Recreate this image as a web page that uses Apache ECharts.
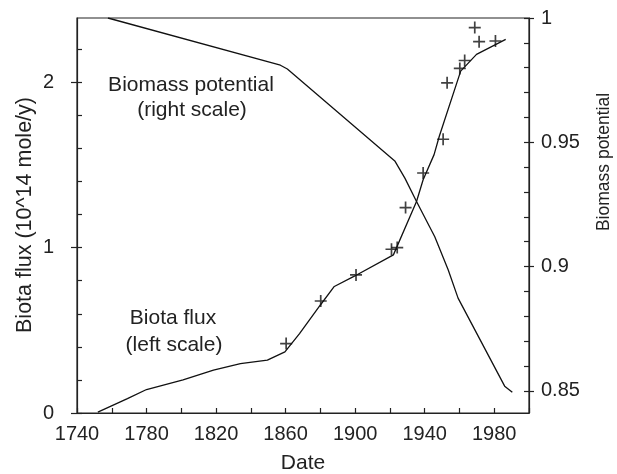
<!DOCTYPE html>
<html><head><meta charset="utf-8">
<script src="https://cdn.jsdelivr.net/npm/echarts@6/dist/echarts.min.js"></script>
<style>html,body{margin:0;padding:0;background:#fff}#c{width:617px;height:474px}</style>
</head><body><div id="c"></div>
<script>
// Biota flux model line (left scale, 10^14 mole/y)
const fluxYears = [1752, 1769, 1780, 1801, 1818.5, 1834, 1849.5, 1859.6, 1868, 1880, 1888, 1899, 1922, 1935.3, 1939.1, 1945.4, 1948.4, 1960.7, 1969.8, 1986.6];
const fluxVals  = [0.005, 0.087, 0.142, 0.2, 0.259, 0.299, 0.32, 0.37, 0.48, 0.653, 0.765, 0.824, 0.956, 1.279, 1.41, 1.562, 1.673, 2.067, 2.168, 2.259];
// Observed biota flux (+ markers)
const obsYears = [1860.3, 1880.2, 1900.5, 1920.9, 1924.2, 1929, 1939.1, 1950.6, 1952.9, 1960.2, 1963, 1968.8, 1971.3, 1980.7];
const obsVals  = [0.42, 0.677, 0.835, 0.99, 1.0, 1.242, 1.451, 1.655, 1.996, 2.083, 2.131, 2.33, 2.245, 2.249];
// Biomass potential (right scale)
const bioYears = [1757.8, 1857, 1861, 1922.8, 1928.6, 1935.3, 1945.8, 1953.5, 1959.2, 1986, 1990.4];
const bioVals  = [1.0, 0.981, 0.9795, 0.9425, 0.9356, 0.9262, 0.912, 0.8987, 0.8873, 0.8519, 0.8494];
// Axis ticks and labels
const xTicks = [1740,1760,1780,1800,1820,1840,1860,1880,1900,1920,1940,1960,1980,2000];
const xLabels = [1740,1780,1820,1860,1900,1940,1980];
const leftTicks = [0,0.2,0.4,0.6,0.8,1,1.2,1.4,1.6,1.8,2,2.2];
const leftLabels = [0,1,2];
const rightTicks = [0.85,0.86,0.87,0.88,0.89,0.9,0.91,0.92,0.93,0.94,0.95,0.96,0.97,0.98,0.99,1];
const rightLabels = [0.85,0.9,0.95,1];

const zip = (a,b)=>a.map((v,i)=>[v,b[i]]);
const FONT = '"Liberation Sans", Arial, Helvetica, sans-serif';
const INK = '#222';
const LEFT_MAX = 2.388, RIGHT_MIN = 0.8411;
const plain = v => String(v);

const chart = echarts.init(document.getElementById('c'), null, {renderer:'canvas'});
chart.setOption({
  animation: false,
  backgroundColor: '#fff',
  textStyle: {fontFamily: FONT, color: INK},
  grid: {left: 77, right: 88, top: 18, bottom: 61, containLabel: false, outerBoundsMode: 'none',
         show: true, borderColor: INK, borderWidth: 1.2, backgroundColor: 'transparent'},
  xAxis: [{
    type: 'value', min: 1740, max: 2000,
    axisLine: {show: true, lineStyle: {color: INK, width: 1.2}},
    axisTick: {show: true, inside: true, length: 5, customValues: xTicks, lineStyle: {color: INK, width: 1.2}},
    axisLabel: {customValues: xLabels, formatter: plain, margin: 11, fontSize: 20, color: INK, fontFamily: FONT},
    splitLine: {show: false},
    name: 'Date', nameLocation: 'middle', nameGap: 40,
    nameTextStyle: {fontSize: 21, color: INK, fontFamily: FONT}
  }],
  yAxis: [{
    type: 'value', position: 'left', min: 0, max: LEFT_MAX,
    axisLine: {show: true, lineStyle: {color: INK, width: 1.2}},
    axisTick: {show: true, inside: true, length: 5, customValues: leftTicks, lineStyle: {color: INK, width: 1.2}},
    axisLabel: {customValues: leftLabels, formatter: plain, margin: 23, fontSize: 20, color: INK, fontFamily: FONT},
    splitLine: {show: false}
  },{
    type: 'value', position: 'right', min: RIGHT_MIN, max: 1,
    axisLine: {show: true, lineStyle: {color: INK, width: 1.2}},
    axisTick: {show: true, inside: true, length: 5, customValues: rightTicks, lineStyle: {color: INK, width: 1.2}},
    axisLabel: {customValues: rightLabels, formatter: plain, margin: 12, fontSize: 20, color: INK, fontFamily: FONT},
    splitLine: {show: false}
  },{
    type: 'value', position: 'left', min: 0, max: LEFT_MAX,
    axisLine: {show: false},
    axisTick: {show: true, inside: false, length: 6, customValues: leftLabels, lineStyle: {color: INK, width: 1.2}},
    axisLabel: {show: false}, splitLine: {show: false}
  },{
    type: 'value', position: 'right', min: RIGHT_MIN, max: 1,
    axisLine: {show: false},
    axisTick: {show: true, inside: false, length: 5, customValues: rightLabels, lineStyle: {color: INK, width: 1.2}},
    axisLabel: {show: false}, splitLine: {show: false}
  }],
  graphic: [
    {type: 'text', x: 25, y: 215, rotation: Math.PI/2,
     style: {text: 'Biota flux (10^14 mole/y)', font: '21.5px ' + FONT, fill: INK, align: 'center', verticalAlign: 'middle'}},
    {type: 'text', x: 604, y: 162, rotation: Math.PI/2,
     style: {text: 'Biomass potential', font: '17.5px ' + FONT, fill: INK, align: 'center', verticalAlign: 'middle'}},
    {type: 'text', x: 191, y: 85,
     style: {text: 'Biomass potential', font: '21px ' + FONT, fill: INK, align: 'center', verticalAlign: 'middle'}},
    {type: 'text', x: 192, y: 110,
     style: {text: '(right scale)', font: '21px ' + FONT, fill: INK, align: 'center', verticalAlign: 'middle'}},
    {type: 'text', x: 173, y: 318,
     style: {text: 'Biota flux', font: '21px ' + FONT, fill: INK, align: 'center', verticalAlign: 'middle'}},
    {type: 'text', x: 174, y: 345,
     style: {text: '(left scale)', font: '21px ' + FONT, fill: INK, align: 'center', verticalAlign: 'middle'}}
  ],
  series: [{
    name: 'Biota flux', type: 'line', xAxisIndex: 0, yAxisIndex: 0,
    data: zip(fluxYears, fluxVals), showSymbol: false, smooth: false,
    lineStyle: {color: '#111', width: 1.3}
  },{
    name: 'Observed', type: 'scatter', xAxisIndex: 0, yAxisIndex: 0,
    data: zip(obsYears, obsVals),
    symbol: 'path://M5,0L5,10M0,5L10,5', symbolSize: 12,
    itemStyle: {color: 'rgba(0,0,0,0)', borderColor: '#111', borderWidth: 1.7}
  },{
    name: 'Biomass potential', type: 'line', xAxisIndex: 0, yAxisIndex: 1,
    data: zip(bioYears, bioVals), showSymbol: false, smooth: false,
    lineStyle: {color: '#111', width: 1.3}
  }]
});
</script>
</body></html>
